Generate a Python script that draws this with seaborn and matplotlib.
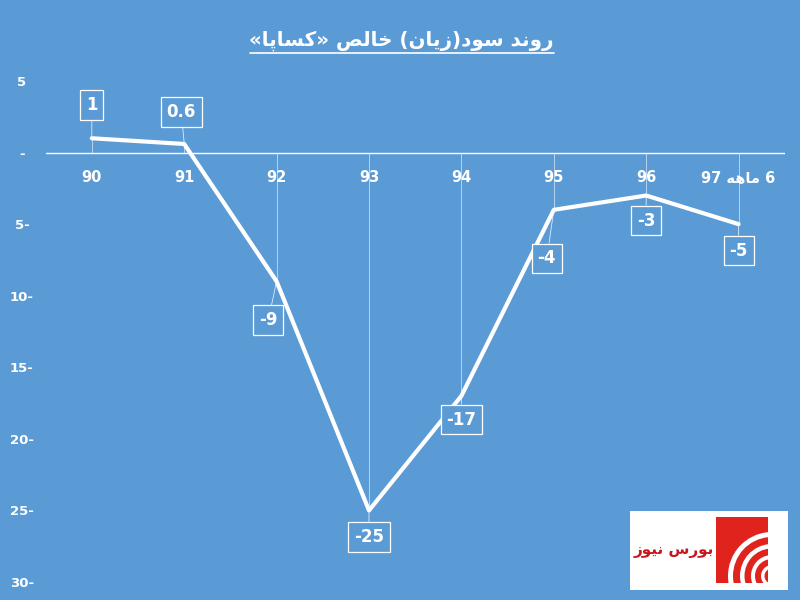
import matplotlib
matplotlib.use("Agg")
import matplotlib.pyplot as plt
import seaborn as sns
import pandas as pd
from matplotlib.patches import Rectangle, Wedge

# <--- data --->
years = ["90", "91", "92", "93", "94", "95", "96", "6 ماهه 97"]
profit = [1, 0.6, -9, -25, -17, -4, -3, -5]
value_labels = ["1", "0.6", "-9", "-25", "-17", "-4", "-3", "-5"]
y_ticks = [5, 0, -5, -10, -15, -20, -25, -30]
y_ticklabels = ["5", "-", "5-", "10-", "15-", "20-", "25-", "30-"]
title = "روند سود(زیان) خالص «کساپا»"
logo_text = "بورس نیوز"

# label offsets (points) from each point
label_offsets = [(0, 24), (-2, 23), (-6, -28), (0, -19), (0, -17), (-5, -35), (0, -18), (0, -19)]

# simple arabic/persian shaping since matplotlib has no text layout engine
FORMS = {
    "ا": ("\uFE8D", "\uFE8E"), "د": ("\uFEA9", "\uFEAA"), "ر": ("\uFEAD", "\uFEAE"),
    "ز": ("\uFEAF", "\uFEB0"), "و": ("\uFEED", "\uFEEE"),
    "ن": ("\uFEE5", "\uFEE6", "\uFEE7", "\uFEE8"), "س": ("\uFEB1", "\uFEB2", "\uFEB3", "\uFEB4"),
    "ی": ("\uFBFC", "\uFBFD", "\uFEF3", "\uFEF4"), "خ": ("\uFEA5", "\uFEA6", "\uFEA7", "\uFEA8"),
    "ل": ("\uFEDD", "\uFEDE", "\uFEDF", "\uFEE0"), "ص": ("\uFEB9", "\uFEBA", "\uFEBB", "\uFEBC"),
    "ک": ("\uFB8E", "\uFB8F", "\uFB90", "\uFB91"), "پ": ("\uFB56", "\uFB57", "\uFB58", "\uFB59"),
    "م": ("\uFEE1", "\uFEE2", "\uFEE3", "\uFEE4"), "ه": ("\uFEE9", "\uFEEA", "\uFEEB", "\uFEEC"),
    "ب": ("\uFE8F", "\uFE90", "\uFE91", "\uFE92"),
}
MIRROR = {"(": ")", ")": "(", "«": "»", "»": "«"}


def rtl(text):
    out = []
    for i, c in enumerate(text):
        if c not in FORMS:
            out.append(c)
            continue
        prev = i > 0 and text[i - 1] in FORMS and len(FORMS[text[i - 1]]) == 4
        nxt = len(FORMS[c]) == 4 and i + 1 < len(text) and text[i + 1] in FORMS
        f = FORMS[c]
        if prev and nxt:
            out.append(f[3])
        elif prev:
            out.append(f[1])
        elif nxt:
            out.append(f[2])
        else:
            out.append(f[0])
    vis = [MIRROR.get(c, c) for c in reversed(out)]
    # put digit runs back in left-to-right order
    res, run = [], []
    for c in vis:
        if c.isdigit() or c == ".":
            run.append(c)
        else:
            res.extend(reversed(run))
            run = []
            res.append(c)
    res.extend(reversed(run))
    return "".join(res)


bg = "#5B9BD5"
sns.set_theme(style="white")
plt.rcParams["font.family"] = ["DejaVu Sans", "Noto Sans"]

df = pd.DataFrame({"x": range(len(years)), "profit": profit})

fig = plt.figure(figsize=(8, 6), dpi=100, facecolor=bg)
ax = fig.add_axes([0.057, 0.03, 0.924, 0.835], facecolor=bg)

# drop lines
ax.vlines(df["x"], 0, df["profit"], color="white", linewidth=0.7, alpha=0.55, zorder=1)
sns.lineplot(data=df, x="x", y="profit", color="white", linewidth=3.0, ax=ax, zorder=3)
ax.axhline(0, color="white", linewidth=1.0, zorder=2)

ax.set_xlim(-0.5, 7.5)
ax.set_ylim(-30, 5)
ax.set_xticks(range(len(years)))
ax.set_xticklabels([rtl(y) for y in years])
ax.set_yticks(y_ticks)
ax.set_yticklabels(y_ticklabels)
ax.set_xlabel("")
ax.set_ylabel("")
for s in ax.spines.values():
    s.set_visible(False)
ax.tick_params(axis="y", length=0, pad=17, colors="white", labelsize=9.5)
ax.tick_params(axis="x", length=0, colors="white", labelsize=10.5)
for t in ax.get_yticklabels():
    t.set_horizontalalignment("center")
    t.set_fontweight("bold")
# x labels sit just below the zero line
for i, lab in enumerate(ax.get_xticklabels()):
    lab.set_visible(False)
    ax.annotate(lab.get_text(), (i, 0), xytext=(0, -18), textcoords="offset points",
                ha="center", va="center", color="white", fontsize=10.5, fontweight="bold")

# value labels in boxes
for i, (v, txt) in enumerate(zip(profit, value_labels)):
    dx, dy = label_offsets[i]
    ax.annotate(txt, (i, v), xytext=(dx, dy), textcoords="offset points",
                ha="center", va="center", color="white", fontsize=12, fontweight="bold",
                bbox=dict(boxstyle="square,pad=0.35", fc=bg, ec="white", lw=0.9),
                arrowprops=dict(arrowstyle="-", color="white", lw=0.6, alpha=0.8,
                                shrinkA=0, shrinkB=0),
                zorder=5)

# title with underline
fig.text(0.501, 0.932, rtl(title), ha="center", va="center", color="white",
         fontsize=14.3, fontweight="bold")
fig.add_artist(plt.Line2D([0.312, 0.692], [0.911, 0.911], color="white", lw=1.2))

# logo
inch = fig.dpi_scale_trans
fig.add_artist(Rectangle((6.30, 0.10), 1.58, 0.79, transform=inch, fc="white", ec="none"))
red_sq = Rectangle((7.16, 0.17), 0.52, 0.66, transform=inch, fc="#E0231C", ec="none")
fig.add_artist(red_sq)
for r, w in [(0.44, 0.05), (0.32, 0.045), (0.21, 0.04), (0.11, 0.035)]:
    wd = Wedge((7.72, 0.24), r, 95, 265, width=w, transform=inch, fc="white", ec="none")
    fig.add_artist(wd)
    wd.set_clip_path(red_sq)
fig.text(6.74, 0.50, rtl(logo_text), transform=inch, ha="center", va="center",
         color="#C8161D", fontsize=11, fontweight="bold")

fig.savefig("out.png", dpi=100, facecolor=bg)
